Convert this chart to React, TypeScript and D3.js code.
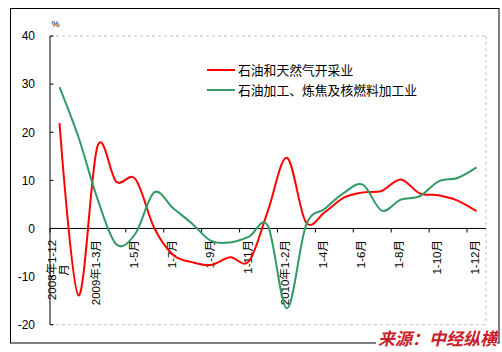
import React from "react";
import * as d3 from "d3";

const categories = [
  "2008年1-12月", "2009年1-2月", "2009年1-3月", "1-4月", "1-5月", "1-6月", "1-7月", "1-8月",
  "1-9月", "1-10月", "1-11月", "1-12月", "2010年1-2月", "1-3月", "1-4月", "1-5月", "1-6月",
  "1-7月", "1-8月", "1-9月", "1-10月", "1-11月", "1-12月",
];
const oilGas = [21.9, -13.9, 17.0, 9.7, 10.3, 0.1, -5.5, -7.0, -7.6, -6.0, -6.8, 3.7, 14.7, 1.3, 3.4, 6.4, 7.5, 7.8, 10.2, 7.3, 6.9, 5.8, 3.6];
const refining = [29.4, 19.0, 6.2, -3.3, -1.1, 7.5, 4.2, 1.0, -2.6, -2.9, -1.7, 0.5, -16.6, 0.6, 4.1, 7.4, 9.1, 3.7, 6.0, 6.7, 9.8, 10.5, 12.7];
const seriesNames = ["石油和天然气开采业", "石油加工、炼焦及核燃料加工业"];
const seriesColors = ["#FF0000", "#339966"];
const yTicks = [40, 30, 20, 10, 0, -10, -20];

const left = 50, right = 486, top = 36, bottom = 324.7;
const numFont = "'Liberation Sans', Arial, sans-serif";
const cjkFont = "'Liberation Sans', 'Noto Sans CJK SC', sans-serif";

export default function App() {
  const x = d3.scaleBand<number>().domain(d3.range(categories.length)).range([left, right]).padding(0);
  const y = d3.scaleLinear().domain([-20, 40]).range([bottom, top]);
  const cx = (i: number) => (x(i) as number) + x.bandwidth() / 2;
  const line = d3.line<number>().x((_, i) => cx(i)).y((d) => y(d)).curve(d3.curveCardinal.tension(0));
  const series = [oilGas, refining];
  const labelIdx = d3.range(0, categories.length, 2);
  const y0 = y(0);

  return (
    <svg width={502} height={352} style={{ position: "absolute", left: 0, top: 0 }}>
      <rect x={0} y={0} width={502} height={352} fill="#fff" />
      <rect x={10.5} y={8.5} width={488.5} height={334.5} fill="none" stroke="#000" strokeWidth={1} />
      {/* plot frame dashed */}
      <line x1={left} x2={right} y1={top} y2={top} stroke="#C0C0C0" strokeDasharray="3,3" />
      <line x1={left} x2={right} y1={bottom} y2={bottom} stroke="#C0C0C0" strokeDasharray="3,3" />
      <line x1={right} x2={right} y1={top} y2={bottom} stroke="#C0C0C0" strokeDasharray="3,3" />
      {/* y axis */}
      <line x1={left} x2={left} y1={top} y2={bottom} stroke="#000" />
      {yTicks.map((t) => (
        <g key={t}>
          <line x1={left} x2={left + 3.5} y1={y(t)} y2={y(t)} stroke="#000" />
          <text x={35} y={y(t)} dy="0.36em" textAnchor="end" fontSize={12} fontFamily={numFont} fill="#000">
            {t}
          </text>
        </g>
      ))}
      <text x={55.5} y={24} dy="0.35em" textAnchor="middle" fontSize={9} fontFamily={numFont}>%</text>
      {/* x axis */}
      <line x1={left} x2={right} y1={y0} y2={y0} stroke="#000" />
      {labelIdx.map((i) => (
        <line key={"t" + i} x1={x(i) as number} x2={x(i) as number} y1={y0} y2={y0 + 4} stroke="#000" />
      ))}
      {labelIdx.map((i) => {
        const px = cx(i) - 1.5;
        if (i === 0) {
          return (
            <g key={"l" + i} transform={`translate(${px},270) rotate(-90)`}>
              <text x={0} y={-6.3} dy="0.35em" textAnchor="middle" fontSize={11.5} fontFamily={cjkFont}>2008年1-12</text>
              <text x={0} y={6.3} dy="0.35em" textAnchor="middle" fontSize={11.5} fontFamily={cjkFont}>月</text>
            </g>
          );
        }
        return (
          <text key={"l" + i} transform={`translate(${px},240) rotate(-90)`} dy="0.35em" textAnchor="end" fontSize={11.5} fontFamily={cjkFont}>
            {categories[i]}
          </text>
        );
      })}
      {/* series */}
      {series.map((s, k) => (
        <path key={k} d={line(s) || ""} fill="none" stroke={seriesColors[k]} strokeWidth={2} />
      ))}
      {/* legend */}
      {seriesNames.map((n, k) => (
        <g key={n}>
          <line x1={207} x2={235} y1={70 + k * 20} y2={70 + k * 20} stroke={seriesColors[k]} strokeWidth={2} />
          <text x={238} y={70 + k * 20} dy="0.36em" fontSize={12.8} fontFamily="'Noto Sans CJK SC', sans-serif" fill="#000">
            {n}
          </text>
        </g>
      ))}
      {/* source */}
      <rect x={376} y={330} width={121} height={18} fill="#fff" />
      <text x={378} y={345} fontSize={17} fontWeight="bold" fontStyle="italic" fontFamily="'Noto Sans CJK SC', sans-serif" fill="#C8202A">
        来源：中经纵横
      </text>
    </svg>
  );
}
